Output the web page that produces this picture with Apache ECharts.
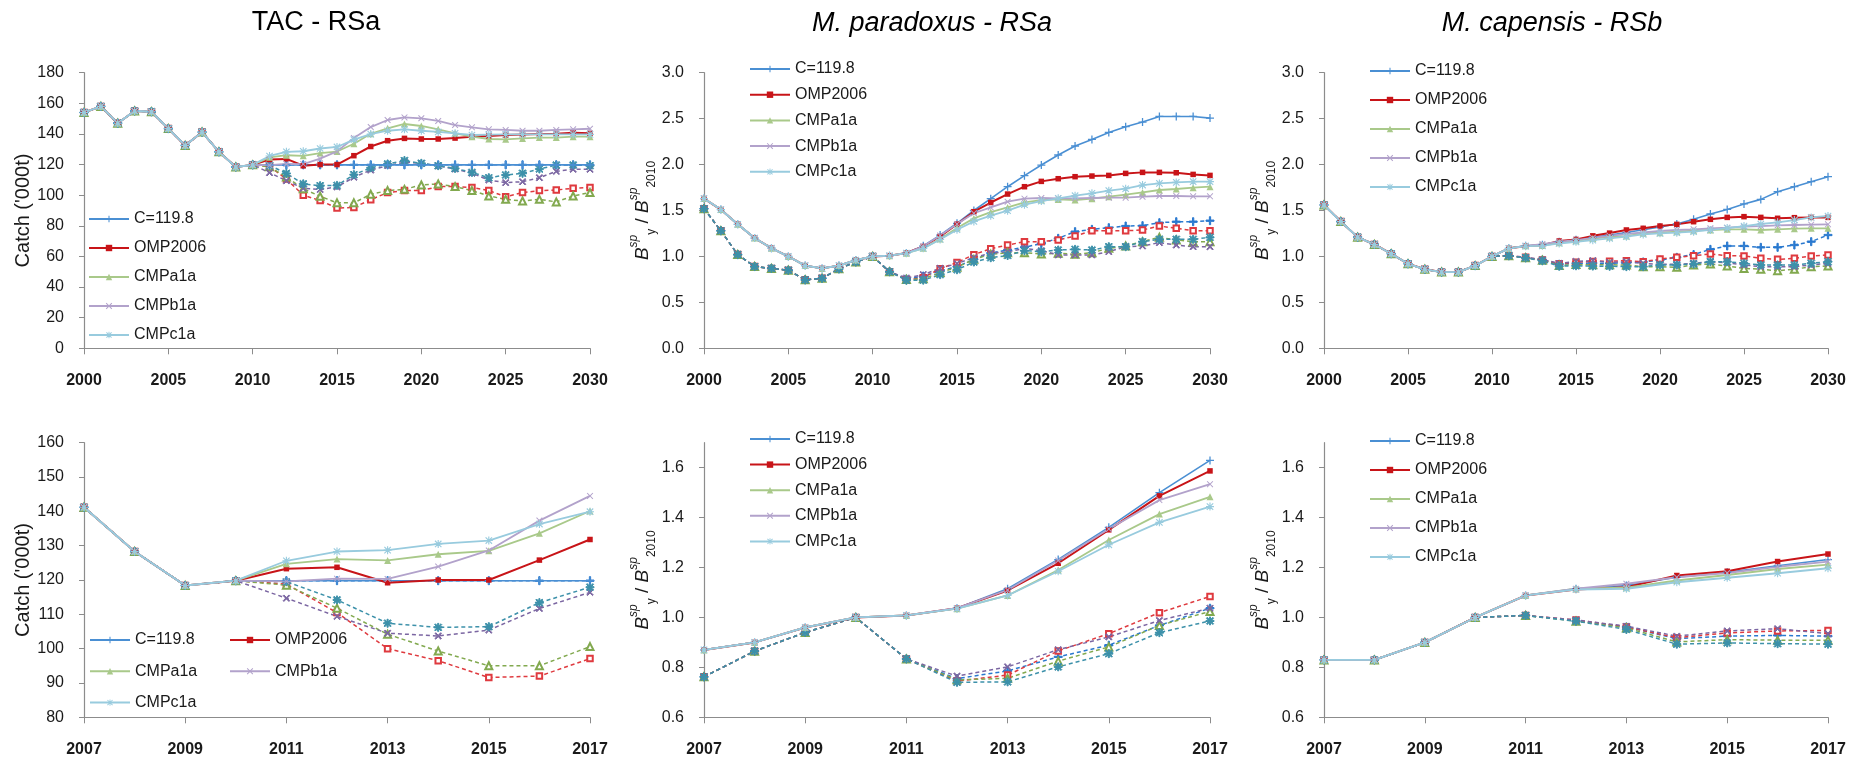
<!DOCTYPE html>
<html>
<head>
<meta charset="utf-8">
<script src="https://cdn.jsdelivr.net/npm/echarts@6/dist/echarts.min.js"></script>
<style>
  html, body { margin: 0; padding: 0; background: #ffffff; }
  #chart { width: 1863px; height: 758px; }
</style>
</head>
<body>
<div id="chart"></div>
<script>
// ---- years ----
const years = [2000, 2001, 2002, 2003, 2004, 2005, 2006, 2007, 2008, 2009, 2010,
  2011, 2012, 2013, 2014, 2015, 2016, 2017, 2018, 2019, 2020,
  2021, 2022, 2023, 2024, 2025, 2026, 2027, 2028, 2029, 2030];

// ---- TAC ('000t), 2000-2010 history, then 2011-2030 projections ----
const tacHistory = [154, 158, 147, 155, 154.5, 143.5, 132.5, 141.2, 128.3, 118.4, 119.8];
const tacC = [119.8, 119.8, 119.8, 119.8, 119.8, 119.8, 119.8, 119.8, 119.8, 119.8, 119.8, 119.8, 119.8, 119.8, 119.8, 119.8, 119.8, 119.8, 119.8, 119.8];
const tacOMP = [123.3, 123.7, 119.2, 120, 120, 125.8, 131.8, 135.6, 137.1, 136.7, 136.7, 137.3, 138.2, 138.7, 139.3, 139.7, 140, 140.2, 140.8, 140.4];
const tacA = [124.7, 126.1, 125.7, 127.5, 128.5, 133.6, 140.1, 143.7, 146.5, 145.2, 143, 140.4, 138.2, 136.7, 136.5, 137.1, 137.6, 137.6, 138.2, 138.2];
const tacB = [119.6, 120.4, 120.3, 123.9, 128.6, 137.3, 144.5, 149.1, 150.8, 150.2, 148.5, 145.8, 144.3, 143, 142.6, 142.1, 142.1, 142.6, 143, 143.4];
const tacCc = [125.6, 128.3, 128.7, 130.5, 131.5, 136.3, 139.9, 142.1, 143, 142.1, 141.3, 140.4, 139.3, 139.5, 139.7, 139.7, 139.7, 139.7, 139.7, 139.7];
const tacCAlt = [119.8, 119.8, 119.8, 119.8, 119.8, 119.8, 119.8, 119.8, 119.8, 119.8, 119.8, 119.8, 119.8, 119.8, 119.8, 119.8, 119.8, 119.8, 119.8, 119.8];
const tacOMPAlt = [118.8, 110.5, 100, 96.5, 91.6, 92, 97.1, 101.7, 103, 103, 105.6, 105.6, 105.1, 103, 99, 101.7, 103, 103.4, 104.5, 105.1];
const tacAAlt = [118.5, 111.8, 104.2, 99.3, 95, 95, 100.6, 103, 103.8, 106.7, 107.3, 105.6, 103, 99.5, 97.3, 96.2, 97.3, 95.6, 99.5, 101.7];
const tacBAlt = [114.7, 109.4, 104.5, 103.7, 105.4, 111.7, 116.4, 119.3, 121.5, 120.8, 119.1, 117.1, 114.3, 109.9, 108.2, 108.8, 111.4, 115.6, 116.9, 116.9];
const tacCcAlt = [119.5, 114.2, 107.4, 106.2, 106.4, 113.4, 117.9, 120.4, 122.6, 120.8, 119.3, 117.5, 114.9, 111.4, 113.2, 114.3, 117.1, 119.7, 119.7, 119.3];

// ---- M. paradoxus spawning biomass relative to 2010 ----
const parHistory = [1.63, 1.51, 1.35, 1.20, 1.09, 1.00, 0.90, 0.87, 0.90, 0.96, 1.00];
const parHistoryAlt = [1.52, 1.28, 1.02, 0.89, 0.87, 0.85, 0.745, 0.762, 0.865, 0.94, 1.00];
const parC = [1.008, 1.037, 1.115, 1.232, 1.361, 1.50, 1.629, 1.759, 1.879, 1.995, 2.104, 2.202, 2.274, 2.35, 2.412, 2.463, 2.524, 2.524, 2.524, 2.506];
const parOMP = [1.008, 1.037, 1.108, 1.217, 1.351, 1.487, 1.587, 1.679, 1.759, 1.817, 1.846, 1.868, 1.875, 1.882, 1.904, 1.915, 1.915, 1.911, 1.893, 1.882];
const parA = [1.008, 1.035, 1.088, 1.19, 1.31, 1.414, 1.483, 1.534, 1.589, 1.614, 1.621, 1.614, 1.629, 1.65, 1.672, 1.697, 1.723, 1.734, 1.748, 1.759];
const parB = [1.008, 1.037, 1.11, 1.228, 1.354, 1.47, 1.534, 1.596, 1.629, 1.636, 1.632, 1.632, 1.636, 1.64, 1.64, 1.65, 1.658, 1.658, 1.654, 1.654];
const parCc = [1.008, 1.035, 1.088, 1.185, 1.291, 1.381, 1.444, 1.498, 1.563, 1.603, 1.632, 1.661, 1.687, 1.716, 1.737, 1.777, 1.795, 1.806, 1.814, 1.814];
const parCAlt = [0.834, 0.755, 0.786, 0.842, 0.889, 0.968, 1.037, 1.07, 1.10, 1.14, 1.197, 1.27, 1.295, 1.313, 1.331, 1.335, 1.367, 1.378, 1.378, 1.389];
const parOMPAlt = [0.834, 0.745, 0.769, 0.866, 0.935, 1.019, 1.084, 1.124, 1.161, 1.161, 1.179, 1.222, 1.28, 1.28, 1.28, 1.288, 1.331, 1.306, 1.28, 1.28];
const parAAlt = [0.834, 0.75, 0.756, 0.825, 0.882, 0.968, 1.024, 1.04, 1.041, 1.027, 1.034, 1.023, 1.041, 1.088, 1.114, 1.161, 1.208, 1.179, 1.161, 1.161];
const parBAlt = [0.834, 0.765, 0.802, 0.871, 0.922, 0.988, 1.037, 1.05, 1.088, 1.063, 1.016, 1.016, 1.016, 1.052, 1.106, 1.114, 1.15, 1.124, 1.106, 1.106];
const parCcAlt = [0.834, 0.74, 0.742, 0.802, 0.855, 0.939, 0.986, 1.01, 1.063, 1.052, 1.07, 1.077, 1.07, 1.106, 1.106, 1.161, 1.186, 1.186, 1.186, 1.208];

// ---- M. capensis spawning biomass relative to 2010 ----
const capHistory = [1.56, 1.38, 1.21, 1.13, 1.03, 0.92, 0.86, 0.83, 0.83, 0.90, 1.00];
const capC = [1.088, 1.115, 1.128, 1.161, 1.181, 1.207, 1.232, 1.26, 1.29, 1.32, 1.353, 1.404, 1.462, 1.512, 1.571, 1.621, 1.705, 1.759, 1.814, 1.868];
const capOMP = [1.088, 1.112, 1.121, 1.168, 1.185, 1.224, 1.254, 1.288, 1.306, 1.331, 1.349, 1.378, 1.404, 1.425, 1.433, 1.425, 1.415, 1.422, 1.425, 1.425];
const capA = [1.088, 1.115, 1.119, 1.148, 1.17, 1.194, 1.212, 1.222, 1.251, 1.259, 1.27, 1.28, 1.288, 1.295, 1.295, 1.288, 1.295, 1.302, 1.306, 1.306];
const capB = [1.088, 1.115, 1.135, 1.161, 1.178, 1.203, 1.224, 1.244, 1.262, 1.277, 1.288, 1.295, 1.306, 1.313, 1.324, 1.331, 1.338, 1.342, 1.346, 1.349];
const capCc = [1.088, 1.112, 1.115, 1.141, 1.159, 1.177, 1.197, 1.215, 1.24, 1.251, 1.259, 1.27, 1.288, 1.309, 1.331, 1.353, 1.371, 1.396, 1.425, 1.44];
const capCAlt = [1.008, 0.986, 0.962, 0.915, 0.925, 0.928, 0.925, 0.93, 0.94, 0.96, 0.99, 1.02, 1.077, 1.114, 1.114, 1.099, 1.099, 1.124, 1.161, 1.233];
const capOMPAlt = [1.008, 0.99, 0.962, 0.919, 0.938, 0.946, 0.948, 0.954, 0.943, 0.972, 0.99, 1.008, 1.027, 1.008, 1.005, 0.979, 0.968, 0.979, 1.005, 1.016];
const capAAlt = [1.008, 0.985, 0.958, 0.902, 0.911, 0.909, 0.909, 0.907, 0.889, 0.889, 0.881, 0.907, 0.918, 0.896, 0.87, 0.86, 0.845, 0.86, 0.889, 0.896];
const capBAlt = [1.008, 0.99, 0.965, 0.925, 0.946, 0.955, 0.935, 0.943, 0.925, 0.914, 0.914, 0.925, 0.943, 0.932, 0.907, 0.889, 0.889, 0.889, 0.907, 0.925];
const capCcAlt = [1.008, 0.985, 0.952, 0.893, 0.898, 0.895, 0.893, 0.889, 0.889, 0.907, 0.907, 0.918, 0.943, 0.943, 0.925, 0.907, 0.907, 0.907, 0.925, 0.943];

const strategyNames = ['C=119.8', 'OMP2006', 'CMPa1a', 'CMPb1a', 'CMPc1a'];
const yTicksLong = [0, 0.5, 1.0, 1.5, 2.0, 2.5, 3.0];
const yTicksShort = [0.6, 0.8, 1.0, 1.2, 1.4, 1.6];

// ---- marker shapes ----
const PLUS = 'path://M4.2,0H5.8V4.2H10V5.8H5.8V10H4.2V5.8H0V4.2H4.2Z';
const CROSS = 'path://M0,1.1L1.1,0L5,3.9L8.9,0L10,1.1L6.1,5L10,8.9L8.9,10L5,6.1L1.1,10L0,8.9L3.9,5Z';
const STAR = 'path://M4.3,0H5.7V4.3H10V5.7H5.7V10H4.3V5.7H0V4.3H4.3Z M0.5,1.5L1.5,0.5L5,4L8.5,0.5L9.5,1.5L6,5L9.5,8.5L8.5,9.5L5,6L1.5,9.5L0.5,8.5L4,5Z';

const solidStyle = [
  { color: '#4a8fd3', symbol: PLUS, size: 8, width: 1.6 },
  { color: '#c81418', symbol: 'rect', size: 5.5, width: 2 },
  { color: '#a9c98a', symbol: 'triangle', size: 7, width: 1.8 },
  { color: '#b2a2cb', symbol: CROSS, size: 6.5, width: 1.8 },
  { color: '#98cbde', symbol: STAR, size: 8, width: 1.8 }
];
const altStyle = [
  { color: '#2a79cf', symbol: PLUS, size: 8 },
  { color: '#df3a3f', symbol: 'emptyRect', size: 5.5 },
  { color: '#82a94f', symbol: 'emptyTriangle', size: 7 },
  { color: '#7b66a2', symbol: CROSS, size: 6.5 },
  { color: '#3d91aa', symbol: STAR, size: 8 }
];

const FONT = 'Liberation Sans';
const TEXT = '#1a1a1a';
const AXIS = '#8c8c8c';

const panels = [
  {
    title: 'TAC - RSa', italic: false, cx: 316, left: 84, width: 506,
    solid: [tacC, tacOMP, tacA, tacB, tacCc].map(s => tacHistory.concat(s)),
    alt: [tacCAlt, tacOMPAlt, tacAAlt, tacBAlt, tacCcAlt].map(s => tacHistory.concat(s)),
    catchAxis: true
  },
  {
    title: 'M. paradoxus - RSa', italic: true, cx: 932, left: 704, width: 506,
    solid: [parC, parOMP, parA, parB, parCc].map(s => parHistory.concat(s)),
    alt: [parCAlt, parOMPAlt, parAAlt, parBAlt, parCcAlt].map(s => parHistoryAlt.concat(s)),
    catchAxis: false
  },
  {
    title: 'M. capensis - RSb', italic: true, cx: 1552, left: 1324, width: 504,
    solid: [capC, capOMP, capA, capB, capCc].map(s => capHistory.concat(s)),
    alt: [capCAlt, capOMPAlt, capAAlt, capBAlt, capCcAlt].map(s => capHistory.concat(s)),
    catchAxis: false
  }
];

const rows = [
  { top: 72.7, height: 275.6, xMin: 2000, xMax: 2030, xStep: 5 },
  { top: 442.7, height: 274.6, xMin: 2007, xMax: 2017, xStep: 2 }
];

const grids = [], xAxes = [], yAxes = [], series = [], graphics = [];

const bRich = {
  b: { fontSize: 19, fontStyle: 'italic', fontFamily: FONT, color: TEXT, lineHeight: 30 },
  sup: { fontSize: 12, fontStyle: 'italic', fontFamily: FONT, color: TEXT, verticalAlign: 'top', lineHeight: 18 },
  sub: { fontSize: 12, fontFamily: FONT, color: TEXT, verticalAlign: 'bottom', lineHeight: 15 },
  s: { fontSize: 19, fontFamily: FONT, color: TEXT, lineHeight: 30 }
};

rows.forEach((row, r) => {
  panels.forEach((p, c) => {
    const gi = grids.length;
    grids.push({ left: p.left, top: row.top, width: p.width, height: row.height, containLabel: false });

    xAxes.push({
      type: 'value', gridIndex: gi, min: row.xMin, max: row.xMax, interval: row.xStep,
      axisLine: { show: true, onZero: false, lineStyle: { color: AXIS, width: 1.2 } },
      axisTick: { show: true, inside: false, length: 6, lineStyle: { color: AXIS } },
      axisLabel: { fontSize: 16, fontWeight: 'bold', color: TEXT, fontFamily: FONT, margin: 24,
        formatter: v => String(v) },
      splitLine: { show: false }
    });

    let y;
    if (p.catchAxis) {
      y = r === 0 ? { min: 0, max: 180, interval: 20 } : { min: 80, max: 160, interval: 10 };
      Object.assign(y, {
        name: "Catch ('000t)", nameLocation: 'middle', nameRotate: 90, nameGap: 50,
        nameTextStyle: { fontSize: 20, color: TEXT, fontFamily: FONT },
        axisLabel: { fontSize: 16, color: TEXT, fontFamily: FONT, margin: 20, formatter: v => String(v) },
        axisTick: { show: true, length: 5, lineStyle: { color: AXIS } }
      });
    } else {
      const ticks = r === 0 ? yTicksLong : yTicksShort;
      y = r === 0 ? { min: 0, max: 3, interval: 0.5 } : { min: 0.6, max: 1.7, interval: 0.2 };
      Object.assign(y, {
        name: '{b|B}{sup|sp}{sub|y}{s| / }{b|B}{sup|sp}{sub|2010}',
        nameLocation: 'middle', nameRotate: 90, nameGap: 44,
        nameTextStyle: { rich: bRich },
        axisLabel: { fontSize: 16, color: TEXT, fontFamily: FONT, margin: 20,
          customValues: ticks, formatter: v => Number(v).toFixed(1) },
        axisTick: { show: true, length: 5, customValues: ticks, lineStyle: { color: AXIS } }
      });
    }
    yAxes.push(Object.assign(y, {
      type: 'value', gridIndex: gi,
      axisLine: { show: true, onZero: false, lineStyle: { color: AXIS, width: 1.2 } },
      splitLine: { show: false }
    }));

    const pick = vals => years
      .map((yr, i) => [yr, vals[i]])
      .filter(d => d[0] >= row.xMin && d[0] <= row.xMax);

    // dashed projections first, solid lines drawn on top
    p.alt.forEach((vals, k) => {
      const st = altStyle[k];
      series.push({
        type: 'line', name: strategyNames[k] + ' alt', xAxisIndex: gi, yAxisIndex: gi,
        data: pick(vals), symbol: st.symbol, symbolSize: st.size, showAllSymbol: true,
        lineStyle: { color: st.color, width: 1.5, type: [4, 3] },
        itemStyle: { color: st.color, borderColor: st.color, borderWidth: 1 },
        emphasis: { disabled: true }, z: 2
      });
    });
    p.solid.forEach((vals, k) => {
      const st = solidStyle[k];
      series.push({
        type: 'line', name: strategyNames[k], xAxisIndex: gi, yAxisIndex: gi,
        data: pick(vals), symbol: st.symbol, symbolSize: st.size, showAllSymbol: true,
        lineStyle: { color: st.color, width: st.width },
        itemStyle: { color: st.color },
        emphasis: { disabled: true }, z: 3
      });
    });
  });
});

panels.forEach(p => {
  graphics.push({
    type: 'text', x: p.cx, y: 23,
    style: {
      text: p.title, fill: '#000', align: 'center', verticalAlign: 'middle',
      font: (p.italic ? 'italic ' : '') + '27px "' + FONT + '"'
    }
  });
});

const legendBase = {
  orient: 'vertical', itemWidth: 40, itemHeight: 8, selectedMode: false,
  textStyle: { fontSize: 16, color: TEXT, fontFamily: FONT }, padding: 0
};
const legends = [
  Object.assign({}, legendBase, { left: 88, top: 211, itemGap: 13, data: strategyNames }),
  Object.assign({}, legendBase, { left: 749, top: 61, itemGap: 9.7, data: strategyNames }),
  Object.assign({}, legendBase, { left: 1369, top: 63, itemGap: 13, data: strategyNames }),
  Object.assign({}, legendBase, { left: 89, top: 632, itemGap: 15.3, data: ['C=119.8', 'CMPa1a', 'CMPc1a'] }),
  Object.assign({}, legendBase, { left: 229, top: 632, itemGap: 15.3, data: ['OMP2006', 'CMPb1a'] }),
  Object.assign({}, legendBase, { left: 749, top: 431, itemGap: 9.6, data: strategyNames }),
  Object.assign({}, legendBase, { left: 1369, top: 433, itemGap: 13, data: strategyNames })
];

const chart = echarts.init(document.getElementById('chart'), null, { renderer: 'canvas' });
chart.setOption({
  animation: false,
  backgroundColor: '#ffffff',
  textStyle: { fontFamily: FONT },
  grid: grids,
  xAxis: xAxes,
  yAxis: yAxes,
  legend: legends,
  graphic: graphics,
  series: series
});
</script>
</body>
</html>
